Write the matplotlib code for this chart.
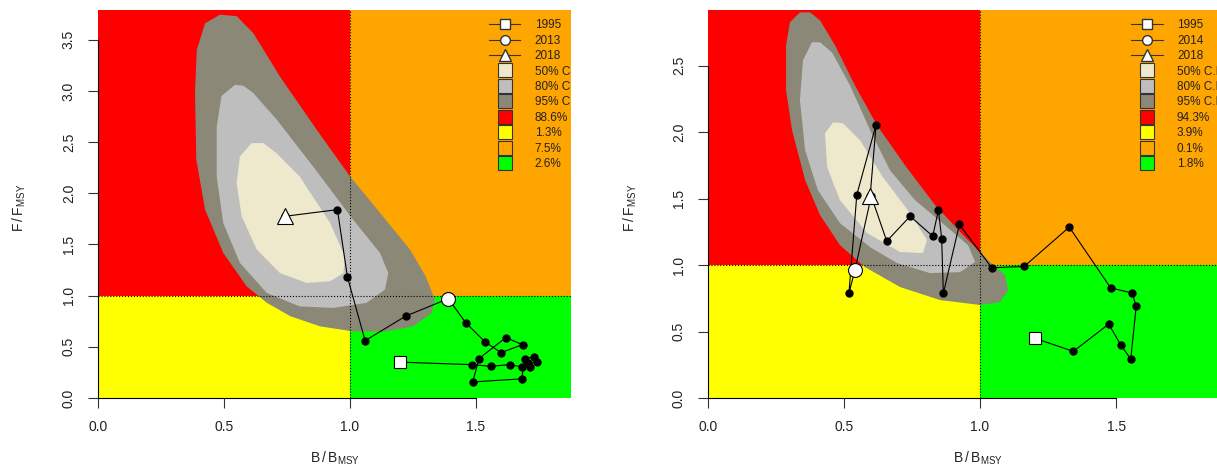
import matplotlib
matplotlib.use("Agg")
import matplotlib.pyplot as plt
from matplotlib.lines import Line2D

plt.rcParams['font.family'] = ['Liberation Sans', 'DejaVu Sans']

# quadrant / contour colours
red, yellow, orange, green = "#FF0000", "#FFFF00", "#FFA500", "#00FF00"
ci_cols = ["#EEE8CD", "#BEBEBE", "#8B8878"]   # 50%, 80%, 95%
ci_labels = ["50% C.I.", "80% C.I.", "95% C.I."]

# ---- left panel ----
left_b = [1.20, 1.483, 1.558, 1.635, 1.681, 1.714, 1.705, 1.741, 1.730, 1.694,
          1.681, 1.487, 1.512, 1.618, 1.685, 1.599, 1.536, 1.46, 1.39,
          1.221, 1.06, 0.99, 0.95, 0.742]
left_f = [0.35, 0.326, 0.31, 0.326, 0.304, 0.304, 0.345, 0.349, 0.401, 0.385,
          0.187, 0.157, 0.385, 0.59, 0.521, 0.443, 0.548, 0.733, 0.97,
          0.80, 0.56, 1.18, 1.84, 1.775]
left_years = ["1995", "2013", "2018"]
left_mid = 18
left_pct = ["88.6%", "1.3%", "7.5%", "2.6%"]

left_c95_b = [0.484, 0.425, 0.392, 0.385, 0.39, 0.425, 0.497, 0.59, 0.67, 0.762,
              0.881, 1.013, 1.145, 1.251, 1.324, 1.337, 1.30, 1.238, 1.132, 1.0,
              0.868, 0.722, 0.616, 0.55]
left_c95_f = [3.744, 3.66, 3.40, 2.98, 2.33, 1.84, 1.417, 1.09, 0.93, 0.80,
              0.70, 0.65, 0.65, 0.70, 0.83, 0.96, 1.19, 1.45, 1.77, 2.165,
              2.62, 3.14, 3.565, 3.73]
left_c80_b = [0.544, 0.49, 0.471, 0.471, 0.497, 0.563, 0.67, 0.80, 0.934, 1.066,
              1.139, 1.152, 1.119, 1.013, 0.854, 0.709, 0.616, 0.577]
left_c80_f = [3.06, 2.95, 2.65, 2.165, 1.71, 1.32, 1.026, 0.895, 0.88, 0.93,
              1.06, 1.22, 1.417, 1.74, 2.26, 2.72, 2.98, 3.05]
left_c50_b = [0.61, 0.563, 0.55, 0.57, 0.63, 0.722, 0.828, 0.921, 0.974, 0.98,
              0.921, 0.80, 0.709, 0.656]
left_c50_f = [2.49, 2.36, 2.10, 1.775, 1.45, 1.22, 1.124, 1.14, 1.22, 1.38,
              1.71, 2.165, 2.39, 2.49]

# ---- right panel ----
right_b = [1.202, 1.343, 1.473, 1.517, 1.554, 1.574, 1.559, 1.48, 1.328, 1.162,
           1.043, 0.924, 0.865, 0.859, 0.847, 0.826, 0.743, 0.657, 0.60, 0.54,
           0.518, 0.547, 0.618, 0.596]
right_f = [0.449, 0.351, 0.556, 0.40, 0.293, 0.69, 0.79, 0.829, 1.286, 0.99,
           0.98, 1.306, 0.787, 1.20, 1.413, 1.218, 1.368, 1.18, 1.52, 0.962,
           0.787, 1.53, 2.058, 1.52]
right_years = ["1995", "2014", "2018"]
right_mid = 19
right_pct = ["94.3%", "3.9%", "0.1%", "1.8%"]

right_c95_b = [0.338, 0.301, 0.287, 0.287, 0.309, 0.357, 0.412, 0.485, 0.577, 0.706,
               0.853, 1.0, 1.074, 1.103, 1.092, 1.037, 0.945, 0.835, 0.724, 0.621,
               0.54, 0.467, 0.412, 0.375]
right_c95_f = [2.902, 2.827, 2.654, 2.316, 2.015, 1.639, 1.376, 1.15, 0.985, 0.835,
               0.737, 0.70, 0.722, 0.812, 0.925, 1.023, 1.211, 1.451, 1.752, 2.053,
               2.353, 2.654, 2.842, 2.902]
right_c80_b = [0.382, 0.349, 0.338, 0.357, 0.404, 0.485, 0.596, 0.695, 0.816, 0.926,
               0.982, 0.956, 0.871, 0.761, 0.669, 0.596, 0.522, 0.456, 0.412]
right_c80_f = [2.677, 2.541, 2.241, 1.865, 1.564, 1.316, 1.135, 1.015, 0.94, 0.947,
               1.023, 1.15, 1.30, 1.489, 1.714, 2.015, 2.353, 2.60, 2.677]
right_c50_b = [0.46, 0.43, 0.438, 0.485, 0.585, 0.706, 0.79, 0.805, 0.743, 0.643,
               0.559, 0.496]
right_c50_f = [2.075, 1.992, 1.737, 1.489, 1.241, 1.098, 1.09, 1.188, 1.391, 1.662,
               1.94, 2.068]


def kobe(ax, b, f, mid, years, pct, c50, c80, c95, xmax, ymax, yticks, leg_x):
    ax.set_xlim(0, xmax)
    ax.set_ylim(0, ymax)
    ax.fill_between([0, 1], 1, ymax, color=red, lw=0, zorder=0)
    ax.fill_between([1, xmax], 1, ymax, color=orange, lw=0, zorder=0)
    ax.fill_between([0, 1], 0, 1, color=yellow, lw=0, zorder=0)
    ax.fill_between([1, xmax], 0, 1, color=green, lw=0, zorder=0)

    ax.fill(c95[0], c95[1], color=ci_cols[2], lw=0, zorder=1)
    ax.fill(c80[0], c80[1], color=ci_cols[1], lw=0, zorder=1)
    ax.fill(c50[0], c50[1], color=ci_cols[0], lw=0, zorder=1)

    ax.axvline(1, color="black", ls=":", lw=0.8, zorder=2)
    ax.axhline(1, color="black", ls=":", lw=0.8, zorder=2)

    ax.plot(b, f, color="black", lw=0.8, marker="o", ms=5, zorder=3)
    ax.plot(b[0], f[0], "s", mfc="white", mec="black", ms=8, mew=0.8, zorder=4)
    ax.plot(b[mid], f[mid], "o", mfc="white", mec="black", ms=10, mew=0.8, zorder=4)
    ax.plot(b[-1], f[-1], "^", mfc="white", mec="black", ms=12, mew=0.8, zorder=4)

    handles = [
        Line2D([], [], color="#333333", lw=0.8, marker="s", mfc="white", mec="#333333", ms=7),
        Line2D([], [], color="#333333", lw=0.8, marker="o", mfc="white", mec="#333333", ms=7),
        Line2D([], [], color="#333333", lw=0.8, marker="^", mfc="white", mec="#333333", ms=9),
    ]
    for c in ci_cols + [red, yellow, orange, green]:
        handles.append(Line2D([], [], ls="none", marker="s", ms=10, mfc=c,
                              mec="#333333", mew=0.8))
    labels = years + ci_labels + pct
    leg = ax.legend(handles, labels, loc="upper left", bbox_to_anchor=(leg_x, 0.976),
                    frameon=False, fontsize=8.5, handlelength=2.65, handletextpad=1.2,
                    labelspacing=0.29, borderpad=0, borderaxespad=0, numpoints=1)
    for t in leg.get_texts():
        t.set_color("#222222")
        t.set_clip_box(ax.bbox)
        t.set_clip_on(True)

    for s in ["top", "right"]:
        ax.spines[s].set_visible(False)
    ax.spines["bottom"].set_bounds(0, 1.5)
    ax.spines["left"].set_bounds(0, yticks[-1])
    ax.set_xticks([0, 0.5, 1.0, 1.5])
    ax.set_xticklabels(["0.0", "0.5", "1.0", "1.5"])
    ax.set_yticks(yticks)
    ax.set_yticklabels(["%.1f" % v for v in yticks], rotation=90, va="center")
    ax.tick_params(length=7, width=0.8, pad=9, labelsize=10, color="#333333",
                   labelcolor="#222222")

    ax.set_xlabel(r"$\mathregular{B\,/\,B_{MSY}}$", fontsize=10, color="#222222")
    ax.set_ylabel(r"$\mathregular{F\,/\,F_{MSY}}$", fontsize=10, color="#222222")


fig = plt.figure(figsize=(12.17, 4.67), dpi=100)
ax1 = fig.add_axes([98 / 1217, 69 / 467, 473 / 1217, 388 / 467])
ax2 = fig.add_axes([708 / 1217, 69 / 467, 509 / 1217, 388 / 467])

kobe(ax1, left_b, left_f, left_mid, left_years, left_pct,
     (left_c50_b, left_c50_f), (left_c80_b, left_c80_f), (left_c95_b, left_c95_f),
     1.877, 3.79, [0, 0.5, 1.0, 1.5, 2.0, 2.5, 3.0, 3.5], 0.827)
kobe(ax2, right_b, right_f, right_mid, right_years, right_pct,
     (right_c50_b, right_c50_f), (right_c80_b, right_c80_f), (right_c95_b, right_c95_f),
     1.871, 2.92, [0, 0.5, 1.0, 1.5, 2.0, 2.5], 0.832)

ax1.xaxis.set_label_coords(0.5, -60 / 388)
ax2.xaxis.set_label_coords(0.53, -60 / 388)
ax1.yaxis.set_label_coords(-79 / 473, 0.49)
ax2.yaxis.set_label_coords(-78 / 509, 0.49)
for ax in (ax1, ax2):
    ax.xaxis.label.set_va("center")
    ax.yaxis.label.set_va("center")

fig.savefig("out.png", dpi=100)
